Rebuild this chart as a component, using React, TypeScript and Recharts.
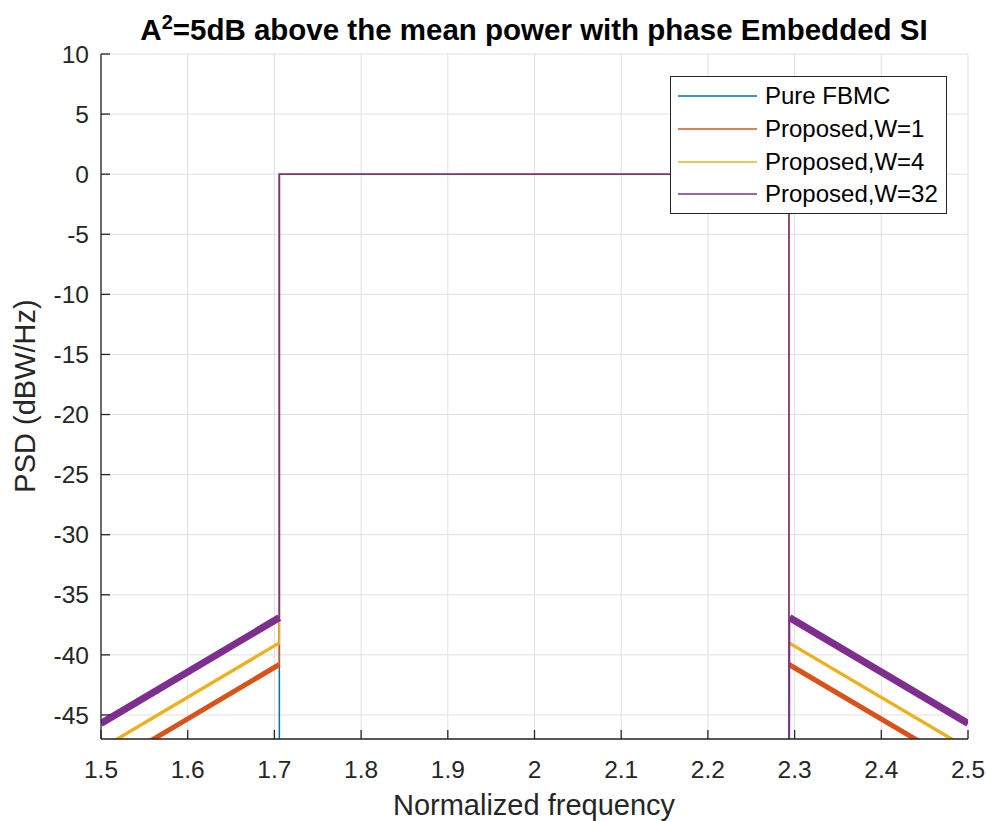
import React from 'react';
import { LineChart, Line, XAxis, YAxis, CartesianGrid, Customized } from 'recharts';

const xTicks = [1.5, 1.6, 1.7, 1.8, 1.9, 2, 2.1, 2.2, 2.3, 2.4, 2.5];
const yTicks = [-45, -40, -35, -30, -25, -20, -15, -10, -5, 0, 5, 10];

const seriesNames = ['Pure FBMC', 'Proposed,W=1', 'Proposed,W=4', 'Proposed,W=32'];
const seriesColors = ['#0072BD', '#D95319', '#EDB120', '#7E2F8E'];

// Pure FBMC: flat passband, out-of-band far below the axis
const pureFreq = [1.7057, 1.7057, 2.2935, 2.2935];
const purePsd = [-80, 0, 0, -80];

// Proposed, W=1
const w1Freq = [1.5, 1.7057, 1.7057, 2.2935, 2.2935, 2.5];
const w1Psd = [-49.6, -40.8, 0, 0, -40.8, -49.6];

// Proposed, W=4
const w4Freq = [1.5, 1.7057, 1.7057, 2.2935, 2.2935, 2.5];
const w4Psd = [-47.8, -39.0, 0, 0, -39.0, -47.8];

// Proposed, W=32
const w32Freq = [1.5, 1.7057, 1.7057, 2.2935, 2.2935, 2.2942, 2.5];
const w32Psd = [-45.7, -36.9, 0, 0, -80, -36.9, -45.7];

const FONT = '"Liberation Sans", Arial, Helvetica, sans-serif';
const AX = '#262626';

type Pt = { x: number; y: number | null };
const toPts = (f: number[], p: number[]): Pt[] => f.map((x, i) => ({ x, y: p[i] }));
const skirt = (f: number[], p: number[]): Pt[] => {
  const n = f.length;
  return [
    { x: f[0], y: p[0] },
    { x: f[1], y: p[1] },
    { x: 2, y: null },
    { x: f[n - 2], y: p[n - 2] },
    { x: f[n - 1], y: p[n - 1] },
  ];
};

const pureData = toPts(pureFreq, purePsd);
const w1Data = toPts(w1Freq, w1Psd);
const w4Data = toPts(w4Freq, w4Psd);
const w32Data = toPts(w32Freq, w32Psd);
const w1Skirt = skirt(w1Freq, w1Psd);
const w4Skirt = skirt(w4Freq, w4Psd);
const w32Skirt = skirt(w32Freq, w32Psd);

const Annotations = () => (
  <g style={{ fontFamily: FONT }}>
    <text x={534} y={40} textAnchor="middle" fontSize={29.5} fontWeight="bold" fill="#000">
      A<tspan dy={-11} fontSize={20}>2</tspan>
      <tspan dy={11}>=5dB above the mean power with phase Embedded SI</tspan>
    </text>
    <text x={534} y={815} textAnchor="middle" fontSize={29} fill={AX}>
      Normalized frequency
    </text>
    <text transform="rotate(-90)" x={-396} y={35} textAnchor="middle" fontSize={29} fill={AX}>
      PSD (dBW/Hz)
    </text>
  </g>
);

const LegendBox = () => (
  <div
    style={{
      position: 'absolute',
      left: 670,
      top: 76,
      width: 277,
      height: 138,
      border: `1px solid ${AX}`,
      background: '#fff',
      boxSizing: 'border-box',
      fontFamily: FONT,
      fontSize: 24,
      color: '#000',
      paddingTop: 3,
    }}
  >
    {seriesNames.map((n, i) => (
      <div key={n} style={{ display: 'flex', alignItems: 'center', height: 32.7 }}>
        <svg width={79} height={6} style={{ marginLeft: 7, marginRight: 8, display: 'block' }}>
          <line x1={0} x2={79} y1={3} y2={3} stroke={seriesColors[i]} strokeWidth={1.5} />
        </svg>
        <span style={{ lineHeight: '32px', whiteSpace: 'nowrap' }}>{n}</span>
      </div>
    ))}
  </div>
);

const tickStyle = { fontFamily: FONT, fontSize: 24.5, fill: AX };

export default function App() {
  return (
    <div style={{ position: 'absolute', left: 0, top: 0, width: 987, height: 821, background: '#fff' }}>
      <LineChart width={987} height={821} margin={{ top: 54, right: 19, bottom: 0, left: 0 }}>
        <CartesianGrid stroke="#e0e0e0" strokeWidth={1} />
        <XAxis
          dataKey="x"
          type="number"
          domain={[1.5, 2.5]}
          ticks={xTicks}
          allowDataOverflow
          height={82}
          tickSize={-9}
          tickMargin={31}
          tick={tickStyle}
          axisLine={{ stroke: AX, strokeWidth: 1.3 }}
          tickLine={{ stroke: AX, strokeWidth: 1.3 }}
          interval={0}
        />
        <XAxis
          xAxisId="top"
          orientation="top"
          dataKey="x"
          type="number"
          domain={[1.5, 2.5]}
          ticks={xTicks}
          allowDataOverflow
          height={0}
          tickSize={-9}
          tick={false}
          axisLine={{ stroke: AX, strokeWidth: 1.3 }}
          tickLine={{ stroke: AX, strokeWidth: 1.3 }}
          interval={0}
        />
        <YAxis
          type="number"
          domain={[-47, 10]}
          ticks={yTicks}
          allowDataOverflow
          width={101}
          tickSize={-9}
          tickMargin={21}
          tick={tickStyle}
          axisLine={{ stroke: AX, strokeWidth: 1.3 }}
          tickLine={{ stroke: AX, strokeWidth: 1.3 }}
          interval={0}
        />
        <YAxis
          yAxisId="right"
          orientation="right"
          type="number"
          domain={[-47, 10]}
          ticks={yTicks}
          allowDataOverflow
          width={0}
          tickSize={-9}
          tick={false}
          axisLine={{ stroke: AX, strokeWidth: 1.3 }}
          tickLine={{ stroke: AX, strokeWidth: 1.3 }}
          interval={0}
        />
        <Line data={pureData} dataKey="y" name={seriesNames[0]} stroke={seriesColors[0]} strokeWidth={1.5} dot={false} isAnimationActive={false} legendType="none" />
        <Line data={w1Data} dataKey="y" name={seriesNames[1]} stroke={seriesColors[1]} strokeWidth={1.5} dot={false} isAnimationActive={false} legendType="none" />
        <Line data={w1Skirt} dataKey="y" name="w1s" stroke={seriesColors[1]} strokeWidth={5} dot={false} isAnimationActive={false} legendType="none" />
        <Line data={w4Data} dataKey="y" name={seriesNames[2]} stroke={seriesColors[2]} strokeWidth={1.5} dot={false} isAnimationActive={false} legendType="none" />
        <Line data={w4Skirt} dataKey="y" name="w4s" stroke={seriesColors[2]} strokeWidth={3.4} dot={false} isAnimationActive={false} legendType="none" />
        <Line data={w32Data} dataKey="y" name={seriesNames[3]} stroke={seriesColors[3]} strokeWidth={1.5} dot={false} isAnimationActive={false} legendType="none" />
        <Line data={w32Skirt} dataKey="y" name="w32s" stroke={seriesColors[3]} strokeWidth={7} dot={false} isAnimationActive={false} legendType="none" />
        <Customized component={Annotations} />
      </LineChart>
      <LegendBox />
    </div>
  );
}
